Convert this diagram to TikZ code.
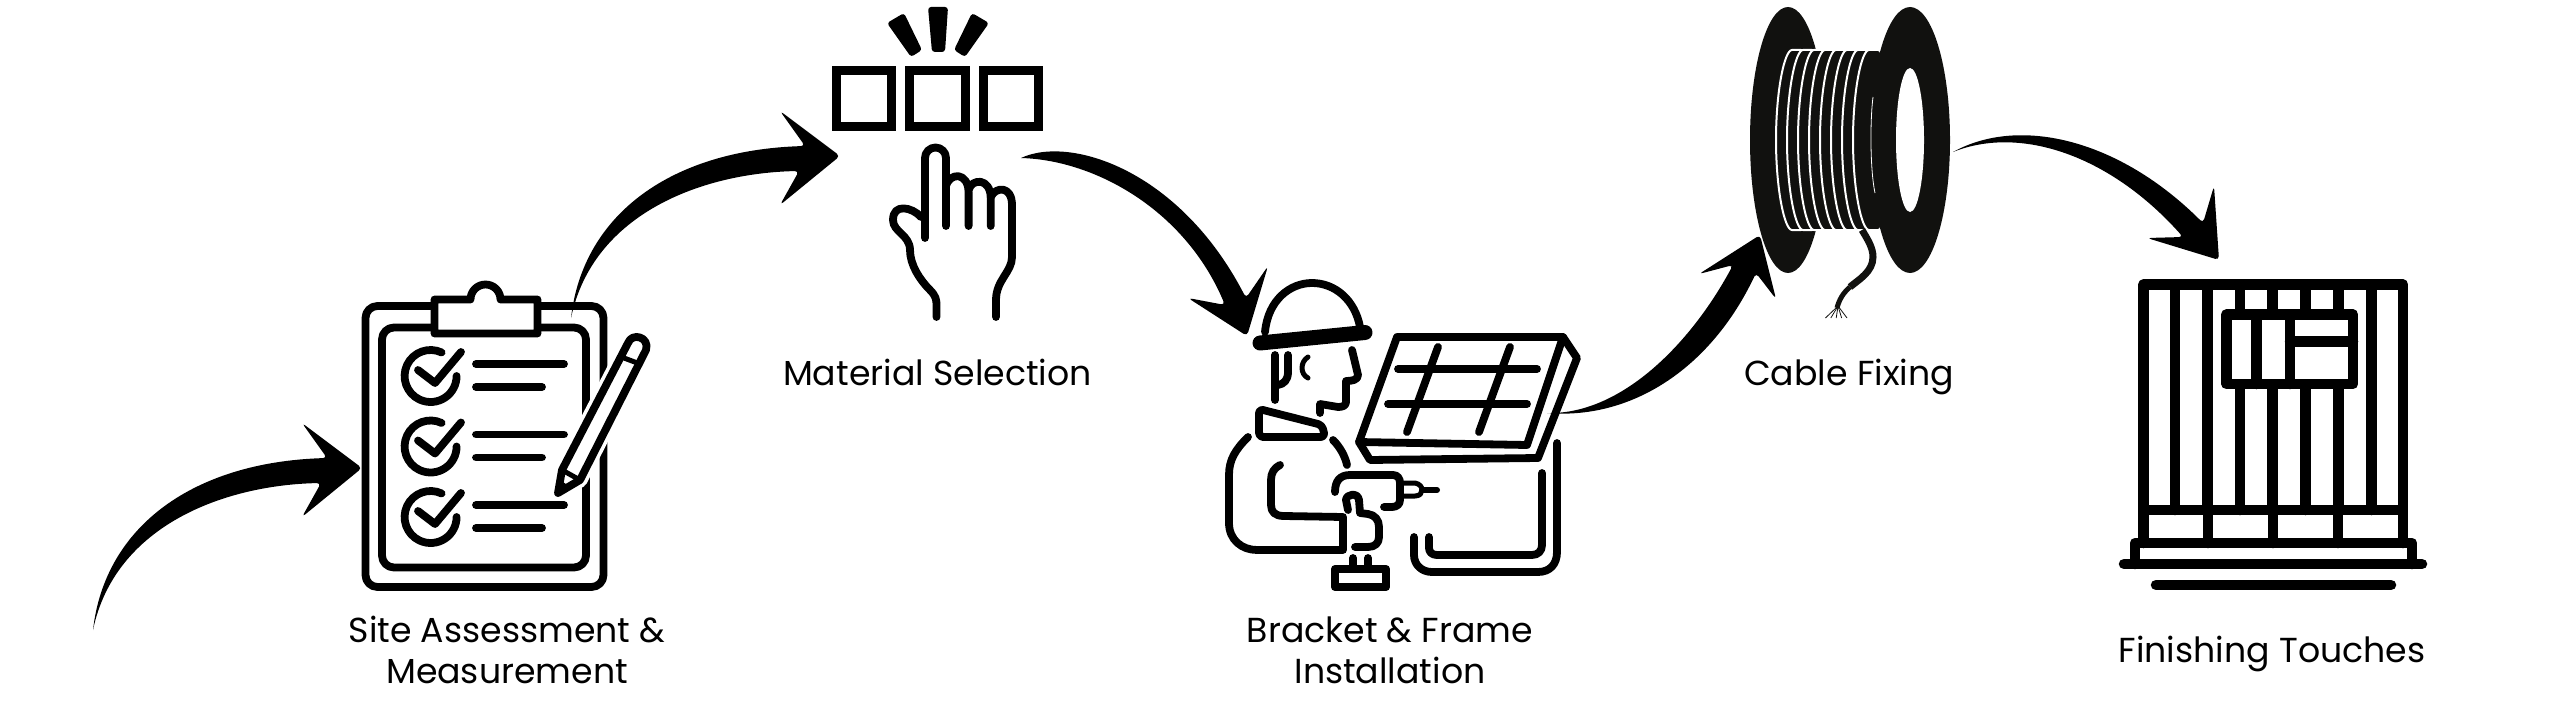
\documentclass[tikz,border=0pt]{standalone}
\usepackage{fontspec}
\setmainfont{Poppins}
\usepackage{tikz}
\usetikzlibrary{calc}
\definecolor{spoolblack}{HTML}{11110F}
\tikzset{
  icon/.style={line width=7.8pt,line cap=round,line join=round},
  heavy/.style={line width=10.5pt,line cap=round,line join=round},
  swoosh/.style={fill=black,rounded corners=4pt},
  steplabel/.style={font=\fontsize{34.7}{41}\selectfont,align=center,text=black},
  pickbox/.style={draw,line width=9pt,minimum size=55.5pt,inner sep=0pt,outer sep=0pt},
  coil/.style={fill=spoolblack,draw=white,line width=2pt,rounded corners=3pt}
}
\begin{document}
\begin{tikzpicture}[x=1pt,y=-1pt]
\useasboundingbox (0,0) rectangle (2560,717);
\coordinate (tailSite) at (93,630);
\coordinate (tipSite) at (362,468);
\coordinate (tailMaterial) at (571,318);
\coordinate (tipMaterial) at (840,156);
\coordinate (tailBracket) at (1021,158);
\coordinate (tipBracket) at (1247,336);
\coordinate (tailCable) at (1547,413);
\coordinate (tipCable) at (1760,235);
\coordinate (tailFinish) at (1953,152);
\coordinate (tipFinish) at (2219,260);

\fill[swoosh] (tailSite) .. controls (105,525) and (195,462) .. (327,458) -- (302,423) -- (tipSite) -- (302,517) -- (321,483) .. controls (225,485) and (115,525) .. (tailSite);
\fill[swoosh] (tailMaterial) .. controls (583,213) and (673,150) .. (805,146) -- (780,111) -- (tipMaterial) -- (780,205) -- (799,171) .. controls (703,173) and (593,213) .. (tailMaterial);
\fill[swoosh] (tailBracket) .. controls (1070,135) and (1180,170) .. (1246,298) -- (1268,266) -- (tipBracket) -- (1188,298) -- (1225,305) .. controls (1185,210) and (1095,160) .. (tailBracket);
\fill[swoosh] (tailCable) .. controls (1620,415) and (1690,345) .. (1733,265) -- (1699,274) -- (tipCable) -- (1776,299) -- (1756,273) .. controls (1710,370) and (1630,420) .. (tailCable);
\fill[swoosh] (tailFinish) .. controls (2020,115) and (2120,140) .. (2203,223) -- (2214,186) -- (tipFinish) -- (2147,238) -- (2183,237) .. controls (2110,155) and (2020,125) .. (tailFinish);

\draw[icon,rounded corners=12pt] (365.5,306) rectangle (603.5,587);
\draw[icon,rounded corners=12pt] (382,327.5) rectangle (586,567.5);
\draw[icon,fill=white] (434.5,333.5) -- (434.5,299.5) -- (470.5,299.5) arc[start angle=180,end angle=360,radius=15] -- (537.5,299.5) -- (537.5,333.5) -- cycle;
\foreach \y in {376,446.5,517} {
  \draw[icon] (430.6,\y) ++(-65:26) arc[start angle=-65,end angle=-360,radius=26];
  \draw[icon] (418,\y-6) -- (435,\y+7) -- (461,\y-24);
  \draw[icon] (476,\y-12) -- (564,\y-12);
  \draw[icon] (476,\y+11) -- (542,\y+11);
}
\draw[icon,white,line width=15pt] (558,493) -- (562,470) -- (628,343) -- (646,350) -- (580,480) -- cycle;
\draw[icon,fill=white] (558,493) -- (562,470) -- (628,343) .. controls (632,332) and (650,337) .. (646,350) -- (580,480) -- cycle;
\draw[icon,line width=5pt] (562,470) -- (580,480);
\draw[icon,line width=5pt] (624,358) -- (640,364);
\fill (558,493) -- (560,480) -- (569,486) -- cycle;

\node[pickbox] (boxLeft) at (864.2,98.5) {};
\node[pickbox] (boxMid) at (937.5,98.5) {};
\node[pickbox] (boxRight) at (1011.2,98.5) {};
\fill[rounded corners=3pt] (928,7) -- (948,7) -- (945,52) -- (932,52) -- cycle;
\fill[rounded corners=3pt] (904,13) -- (887,23) -- (911,57) -- (922,50) -- cycle;
\fill[rounded corners=3pt] (972,13) -- (989,23) -- (965,57) -- (954,50) -- cycle;
\draw[icon] (925,238) -- (925,158) arc[start angle=180,end angle=360,radius=10.5] -- (946,226);
\draw[icon] (946,186) .. controls (950,172) and (968,172) .. (968.6,192) -- (968.6,226);
\draw[icon] (968.6,190) .. controls (972,178) and (990,178) .. (990.7,197) -- (990.7,226);
\draw[icon] (990.7,197) .. controls (996,186) and (1012,186) .. (1012,205) -- (1012,257) .. controls (1012,272) and (996,280) .. (996,300) -- (996,317);
\draw[icon] (921,217) .. controls (912,207) and (893,203) .. (893,220) .. controls (893,232) and (910,235) .. (910,250) .. controls (910,265) and (920,280) .. (930,290) .. controls (936,296) and (936.5,300) .. (936.5,305) -- (936.5,317);

\draw[icon] (1265,332) .. controls (1268,300) and (1290,283) .. (1312,283) .. controls (1335,283) and (1355,300) .. (1360,327);
\draw[line width=15pt,line cap=round] (1260,343) -- (1365,332.5);
\draw[icon] (1275,355) -- (1275,400);
\draw[icon] (1288,355) -- (1288,372) .. controls (1288,380) and (1284,384) .. (1278,385);
\draw[icon,line width=5pt] (1308,357) .. controls (1300,362) and (1300,374) .. (1308,378);
\draw[icon] (1352,350) -- (1358,375) .. controls (1358,380) and (1352,381) .. (1346,381) -- (1346,402) .. controls (1346,406) and (1342,407) .. (1338,407) -- (1320,404) -- (1320,413);
\draw[icon,rounded corners=4pt] (1259,409) -- (1322,425) -- (1325,437) -- (1259,437) -- cycle;
\draw[icon] (1248,437) .. controls (1235,450) and (1229,460) .. (1229,475) -- (1229,523) .. controls (1229,540) and (1242,550) .. (1257,550) -- (1343,550) -- (1343,517) -- (1284,516) .. controls (1275,516) and (1271,512) .. (1271,505) -- (1271,480) .. controls (1271,473) and (1274,468) .. (1280,465);
\draw[icon] (1333,440) .. controls (1340,447) and (1345,456) .. (1347,465);
\draw[icon] (1335,492) .. controls (1335,481) and (1340,475) .. (1350,475) -- (1393,475) .. controls (1398,475) and (1400,479) .. (1400,483) -- (1400,500) .. controls (1400,504) and (1397,507) .. (1392,507) -- (1384,507);
\draw[icon,line width=5pt] (1400,483) -- (1415,483) .. controls (1420,484) and (1422,487) .. (1422,490) .. controls (1422,493) and (1420,496) .. (1415,496) -- (1400,496);
\draw[icon,line width=6pt] (1422,490) -- (1437,490);
\draw[icon] (1348,510) -- (1346,500) .. controls (1346,494) and (1358,492) .. (1359,500) -- (1360,513) -- (1368,514) .. controls (1375,515) and (1379,520) .. (1379,527) -- (1379,537) .. controls (1379,543) and (1375,547) .. (1368,547) -- (1355,547);
\draw[icon] (1335,569) rectangle (1386,587);
\draw[icon] (1353,558) -- (1353,566);
\draw[icon] (1368,558) -- (1368,566);
\draw[icon] (1557,443) -- (1557,552) .. controls (1557,564) and (1550,572) .. (1538,572) -- (1432,572) .. controls (1422,572) and (1414,565) .. (1414,555) -- (1414,537);
\draw[icon] (1542,473) -- (1542,545) .. controls (1542,551) and (1538,555) .. (1532,555) -- (1437,555) .. controls (1432,555) and (1429,552) .. (1429,548) -- (1429,537);
\draw[icon] (1397,337) -- (1563,337) -- (1527,445) -- (1359,442) -- cycle;
\draw[icon] (1563,337) -- (1577,358) -- (1538,458) -- (1370,460) -- (1359,442);
\draw[icon] (1398,369) -- (1537,369);
\draw[icon] (1388,404) -- (1527,404);
\draw[icon] (1438,347) -- (1407,432);
\draw[icon] (1510,347) -- (1479,432);

\fill[spoolblack] (1788,140) ellipse[x radius=38,y radius=133];
\foreach \i in {0,...,7} {
  \filldraw[coil] ({1795+11*\i},50) arc[start angle=-90,end angle=-270,x radius=19,y radius=90] -- ++(9,0) -- ++(0,-180) -- cycle;
}
\fill[spoolblack] (1910,140) ellipse[x radius=40,y radius=133];
\fill[white] (1910,140) ellipse[x radius=14,y radius=72];
\draw[white,line width=.8pt] (1873,97) .. controls (1870,120) and (1870,170) .. (1875,193);
\draw[spoolblack,line width=7pt] (1862,230) .. controls (1868,240) and (1873,248) .. (1873,257) .. controls (1873,272) and (1858,280) .. (1850,287);
\draw[spoolblack,line width=5pt] (1850,287) .. controls (1843,293) and (1839,300) .. (1837,308);
\foreach \a in {-14,-8,-2,4,10} {
  \draw[spoolblack,line width=.8pt] (1838,306) -- ++({\a*.9},12);
}

\draw[heavy] (2143.5,284.5) rectangle (2403,510);
\foreach \x in {2175,2207.7,2240,2272.7,2305.7,2338.7,2371.7} {
  \draw[heavy] (\x,284.5) -- (\x,510);
}
\foreach \x in {2208,2273,2338} {
  \draw[heavy] (\x,510) -- (\x,543);
}
\draw[heavy] (2143.5,510) -- (2143.5,543);
\draw[heavy] (2403,510) -- (2403,543);
\draw[heavy,fill=white] (2226.3,314.7) rectangle (2353,384);
\draw[heavy] (2256.7,314.7) -- (2256.7,384);
\draw[heavy] (2290,314.7) -- (2290,384);
\draw[heavy] (2290,341.3) -- (2353,341.3);
\draw[heavy] (2135,564) -- (2135,543) -- (2412,543) -- (2412,564);
\draw[heavy] (2124,564) -- (2422,564);
\draw[heavy] (2156,585) -- (2391,585);

\node[steplabel] (labelSite) at (507,650) {Site Assessment \&\\Measurement};
\node[steplabel,anchor=base] (labelMaterial) at (937.5,385) {Material Selection};
\node[steplabel] (labelBracket) at (1390,650) {Bracket \& Frame\\Installation};
\node[steplabel,anchor=base] (labelCable) at (1849,385) {Cable Fixing};
\node[steplabel,anchor=base] (labelFinish) at (2272,662) {Finishing Touches};
\end{tikzpicture}
\end{document}
